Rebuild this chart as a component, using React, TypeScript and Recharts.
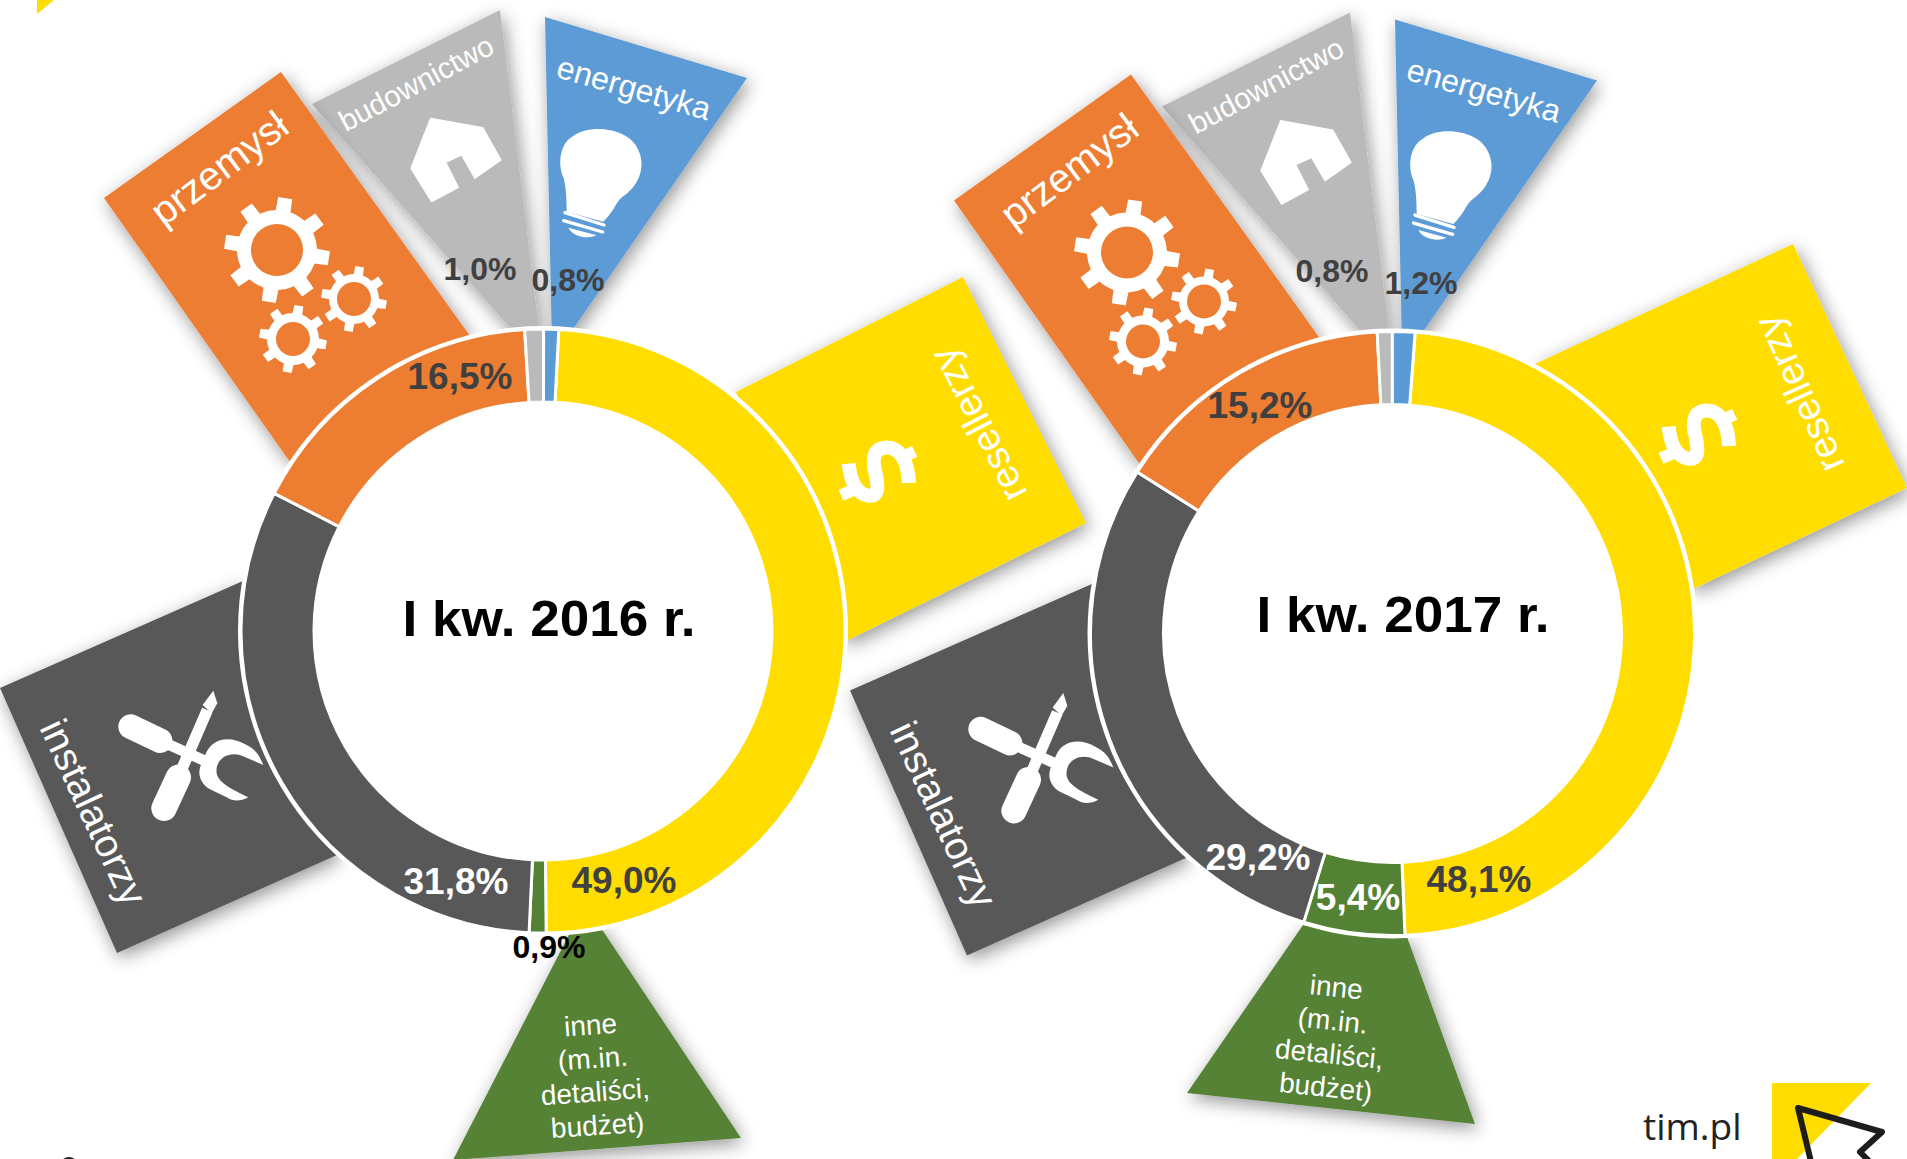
import { Cell, Pie, PieChart } from "recharts";

const FONT = '"Liberation Sans", Arial, sans-serif';

const CATEGORIES = ["resellerzy", "inne", "instalatorzy", "przemysł", "budownictwo", "energetyka"];
const VALUES_2016 = [49.0, 0.9, 31.8, 16.5, 1.0, 0.8];
const VALUES_2017 = [48.1, 5.4, 29.2, 15.2, 0.8, 1.2];
const COLORS = ["#FFDD00", "#548235", "#585858", "#ED7D31", "#BABABA", "#5B9BD5"];

const data2016 = CATEGORIES.map((name, i) => ({ name, value: VALUES_2016[i] }));
const data2017 = CATEGORIES.map((name, i) => ({ name, value: VALUES_2017[i] }));

// hand placed like in the original slide, most labels do not sit on the slice centre
const LABELS_2016 = [
  { x: 624, y: 880, size: 37, fill: "#404040" },
  { x: 549, y: 947, size: 32, fill: "#000000" },
  { x: 456, y: 881, size: 37, fill: "#ffffff" },
  { x: 460, y: 376, size: 37, fill: "#404040" },
  { x: 480, y: 269, size: 32, fill: "#404040" },
  { x: 568, y: 280, size: 32, fill: "#404040" },
];
const LABELS_2017 = [
  { x: 1479, y: 879, size: 37, fill: "#404040" },
  { x: 1358, y: 897, size: 37, fill: "#ffffff" },
  { x: 1258, y: 857, size: 37, fill: "#ffffff" },
  { x: 1260, y: 405, size: 37, fill: "#404040" },
  { x: 1332, y: 271, size: 32, fill: "#404040" },
  { x: 1421, y: 283, size: 32, fill: "#404040" },
];

const percentLabel = (labels: any[], values: number[]) => ({ index }: any) => {
  const l = labels[index];
  return (
    <text
      key={index}
      x={l.x}
      y={l.y}
      fill={l.fill}
      fontFamily={FONT}
      fontWeight="bold"
      fontSize={l.size}
      textAnchor="middle"
      dominantBaseline="central"
    >
      {values[index].toFixed(1).replace(".", ",")}%
    </text>
  );
};

const gearPath = (cx: number, cy: number, rt: number, rb: number, rh: number, a0: number) => {
  const n = 8;
  const pt = (r: number, a: number) => `${(cx + r * Math.cos(a)).toFixed(1)} ${(cy + r * Math.sin(a)).toFixed(1)}`;
  const step = (2 * Math.PI) / n;
  let d = "";
  for (let i = 0; i < n; i++) {
    const a = (a0 * Math.PI) / 180 + i * step;
    d += `${i ? "L" : "M"}${pt(rb, a - step * 0.24)} L${pt(rt, a - step * 0.17)} L${pt(rt, a + step * 0.17)} L${pt(rb, a + step * 0.24)} `;
    d += `A${rb} ${rb} 0 0 1 ${pt(rb, a + step * 0.76)} `;
  }
  d += `Z M${cx + rh} ${cy} A${rh} ${rh} 0 1 0 ${cx - rh} ${cy} A${rh} ${rh} 0 1 0 ${cx + rh} ${cy} Z`;
  return d;
};

const Gears = () => (
  <g fill="#fff" fillRule="evenodd">
    <path d={gearPath(277, 250, 53, 40, 26, -81)} />
    <path d={gearPath(354, 299, 33, 25, 17, -80)} />
    <path d={gearPath(293, 339, 34, 26, 17, -80)} />
  </g>
);

const House = () => (
  <g transform="translate(400 100) scale(0.3333)">
    <path
      d="M92 55 L248 83 L303 180 L225 235 L185 165 L137 187 L175 262 L95 305 L33 205 Z"
      fill="#fff"
      stroke="#fff"
      strokeWidth={4}
      strokeLinejoin="round"
    />
  </g>
);

const Bulb = () => (
  <g transform="translate(400 100) scale(0.3333)" fill="#fff" stroke="none">
    <path d="M500 335 C500 290 497 255 490 232 C472 190 480 130 520 108 C570 70 680 85 710 140 C740 190 722 250 675 285 C645 305 650 325 610 365 Z" />
    <path d="M495 338 L612 375" stroke="#fff" strokeWidth={10} strokeLinecap="round" />
    <path d="M491 362 L608 396" stroke="#fff" strokeWidth={10} strokeLinecap="round" />
    <path d="M505 383 L590 406 C565 418 520 412 505 383 Z" />
  </g>
);

const Tools = () => (
  <g transform="translate(100 680) scale(0.3333)">
    <path d="M92 140 L180 182" stroke="#fff" strokeWidth={74} strokeLinecap="round" />
    <path d="M180 182 L320 245" stroke="#fff" strokeWidth={32} />
    <path d="M192 385 L235 292" stroke="#fff" strokeWidth={76} strokeLinecap="round" />
    <path d="M240 280 L322 90" stroke="#fff" strokeWidth={34} />
    <path d="M308 75 L340 32 L352 70 L335 100 Z" fill="#fff" />
    <path
      d="M320 215 C340 175 390 165 440 195 C470 210 480 230 490 255 L420 225 C380 215 345 240 350 280 C355 310 400 330 445 352 C420 365 400 365 380 352 L330 328 C300 310 290 280 305 250 Z"
      fill="#fff"
    />
  </g>
);

// drawn in zoom scale around its own middle
const Dollar = ({ x, y }: any) => (
  <g transform={`translate(${x} ${y}) scale(0.3333) translate(-235 -455)`} fill="none" stroke="#fff" strokeWidth={42}>
    <path d="M328 488 C325 420 300 378 255 382 C218 386 218 425 228 460 C238 505 235 530 205 526 C170 520 152 480 147 430" />
    <path d="M300 415 L345 393 M170 505 L124 525" strokeWidth={36} />
  </g>
);

const Banner = ({ points, fill }: any) => (
  <polygon points={points} fill={fill} filter="url(#slideShadow)" />
);

const RotText = ({ x, y, rot, size, children }: any) => (
  <text
    x={x}
    y={y}
    transform={`rotate(${rot} ${x} ${y})`}
    fill="#fff"
    fontFamily={FONT}
    fontSize={size}
    textAnchor="middle"
    dominantBaseline="central"
  >
    {children}
  </text>
);

const INNE_LINES = ["inne", "(m.in.", "detaliści,", "budżet)"];

const TOP_BANNERS = (
  <>
    <Banner points="500,10 312,104 525,345 541,345" fill="#BABABA" />
    <Banner points="545,17 747,78 562,345 552,345" fill="#5B9BD5" />
    <Banner points="281,72 104,198 290,462 470,336" fill="#ED7D31" />
    <Banner points="0,688 243,581 337,855 117,953" fill="#585858" />
  </>
);

const TOP_ICONS = (
  <>
    <RotText x={219} y={168} rot={-37} size={40}>przemysł</RotText>
    <RotText x={416} y={83} rot={-28} size={29.5}>budownictwo</RotText>
    <RotText x={634} y={88} rot={16} size={32}>energetyka</RotText>
    <RotText x={94} y={812} rot={65} size={39.5}>instalatorzy</RotText>
    <Gears />
    <House />
    <Bulb />
    <Tools />
  </>
);

export default function App() {
  return (
    <div style={{ position: "absolute", left: 0, top: 0, width: 1907, height: 1159, background: "#fff", overflow: "hidden" }}>
      <PieChart width={1907} height={1159} margin={{ top: 0, right: 0, bottom: 0, left: 0 }}>
        <defs>
          <filter id="slideShadow" x="-30%" y="-30%" width="160%" height="160%">
            <feDropShadow dx={3} dy={5} stdDeviation={9} floodColor="#000" floodOpacity={0.42} />
          </filter>
        </defs>

        <polygon points="37,0 54,0 37,14" fill="#FFDD00" />
        <circle cx={69} cy={1166} r={9} fill="#222" />

        {/* left donut decorations */}
        <g>
          {TOP_BANNERS}
          <Banner points="963,277 1086,523 846,641 736,392" fill="#FFDD00" />
          <Banner points="574,925 599,925 741,1138 453,1160" fill="#548235" />
          {TOP_ICONS}
          <Dollar x={878} y={472} />
          <RotText x={978} y={425} rot={-117} size={39}>resellerzy</RotText>
          <g transform="rotate(-4 594 1075)">
            {INNE_LINES.map((t, i) => (
              <RotText key={t} x={594} y={1025 + i * 33.5} rot={0} size={28}>{t}</RotText>
            ))}
          </g>
        </g>

        {/* right donut decorations, same set moved over */}
        <g>
          <g transform="translate(850 2.4)">
            {TOP_BANNERS}
            {TOP_ICONS}
          </g>
          <Banner points="1793,244 1907,488 1695,588 1535,364" fill="#FFDD00" />
          <Banner points="1303,925 1407,937 1475,1124 1187,1093" fill="#548235" />
          <Dollar x={1698} y={435} />
          <RotText x={1799} y={394} rot={-114} size={39}>resellerzy</RotText>
          <g transform="rotate(6 1331 1038)">
            {INNE_LINES.map((t, i) => (
              <RotText key={t} x={1331} y={987 + i * 33.5} rot={0} size={28}>{t}</RotText>
            ))}
          </g>
        </g>

        <circle cx={543} cy={631} r={305} fill="#fff" />
        <circle cx={1392.5} cy={633.5} r={305} fill="#fff" />

        <Pie
          data={data2016}
          dataKey="value"
          nameKey="name"
          cx={543}
          cy={631}
          innerRadius={229}
          outerRadius={302}
          startAngle={87}
          endAngle={-273}
          stroke="#fff"
          strokeWidth={3}
          label={percentLabel(LABELS_2016, VALUES_2016)}
          labelLine={false}
          isAnimationActive={false}
        >
          {data2016.map((d, i) => (
            <Cell key={d.name} fill={COLORS[i]} />
          ))}
        </Pie>
        <Pie
          data={data2017}
          dataKey="value"
          nameKey="name"
          cx={1392.5}
          cy={633.5}
          innerRadius={229}
          outerRadius={302}
          startAngle={85.7}
          endAngle={-274.3}
          stroke="#fff"
          strokeWidth={3}
          label={percentLabel(LABELS_2017, VALUES_2017)}
          labelLine={false}
          isAnimationActive={false}
        >
          {data2017.map((d, i) => (
            <Cell key={d.name} fill={COLORS[i]} />
          ))}
        </Pie>

        <text x={549} y={619} fontFamily={FONT} fontWeight="bold" fontSize={50} textAnchor="middle" dominantBaseline="central" textLength={293} lengthAdjust="spacingAndGlyphs">
          I kw. 2016 r.
        </text>
        <text x={1403} y={615} fontFamily={FONT} fontWeight="bold" fontSize={50} textAnchor="middle" dominantBaseline="central" textLength={293} lengthAdjust="spacingAndGlyphs">
          I kw. 2017 r.
        </text>

        {/* tim.pl logo */}
        <text x={1643} y={1140} fontFamily='"Open Sans", sans-serif' fontSize={37} fill="#222">
          tim.pl
        </text>
        <polygon points="1772,1083 1871,1083 1797,1159 1772,1159" fill="#FFDD00" />
        <path
          d="M1798 1108 L1882 1132 L1860 1152 L1874 1166 M1798 1108 L1813 1170"
          fill="none"
          stroke="#1d1d1b"
          strokeWidth={6}
          strokeLinecap="round"
          strokeLinejoin="round"
        />
      </PieChart>
    </div>
  );
}
